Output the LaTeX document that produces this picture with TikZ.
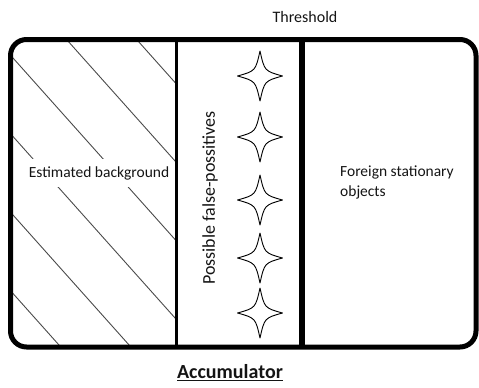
\documentclass[tikz,border=0pt]{standalone}
\usepackage{fontspec}
\setmainfont{Carlito}
\usepackage{tikz}
\usetikzlibrary{calc}
\definecolor{framecolor}{HTML}{000000}
\definecolor{hatchcolor}{HTML}{4A4A4A}
\definecolor{textmain}{HTML}{141414}
\tikzstyle{frame} = [line width=5pt, draw=framecolor, rounded corners=16pt]
\tikzstyle{hatch} = [line width=0.9pt, draw=hatchcolor]
\tikzstyle{sparkle} = [line width=0.9pt, draw=black, fill=white, line join=round]
\tikzstyle{txt} = [text=textmain, font=\fontsize{15.5}{19}\selectfont, inner sep=0pt]

\begin{document}
\begin{tikzpicture}[x=1pt, y=-1pt, every node/.style={text=textmain}]
    \useasboundingbox (0,0) rectangle (479,388);
    % hatching of the estimated background
    \begin{scope}
        \clip[rounded corners=16pt] (10.5,39.5) rectangle (176.5,347);
        \foreach \k in {-2,...,3}
            \draw[hatch] (0,{58+78.5*\k-1.12*13}) -- (180,{58+78.5*\k+1.12*167});
    \end{scope}
    \node[txt, fill=white, inner xsep=3pt, inner ysep=7pt] (estbg) at (99,173) {Estimated background};

    % accumulator frame and the two borders
    \draw[frame] (10.5,39.5) rectangle (476,347);
    \draw[line width=2.5pt] (176.5,39.5) -- (176.5,347);
    \draw[line width=6pt] (301.5,39.5) -- (301.5,347);

    % possible false-positives
    \foreach \sy in {76,137,200,258,313}
        \draw[sparkle, shift={(260,\sy)}] (0,-25) .. controls (4.5,-5) .. (22.5,0) .. controls (4.5,5) .. (0,25)
            .. controls (-4.5,5) .. (-22.5,0) .. controls (-4.5,-5) .. cycle;
    \node[txt, font=\fontsize{18}{21}\selectfont, rotate=90] (falsepos) at (210,198) {Possible false-possitives};

    \node[txt, font=\fontsize{16}{19}\selectfont] (threshold) at (305,17) {Threshold};
    \node[txt, anchor=north west, align=left, font=\fontsize{15.5}{20}\selectfont] (foreign) at (340,166) {Foreign stationary\\objects};
    \node[txt, font=\bfseries\fontsize{20}{24}\selectfont] (accum) at (230,373) {\underline{Accumulator}};
\end{tikzpicture}
\end{document}
